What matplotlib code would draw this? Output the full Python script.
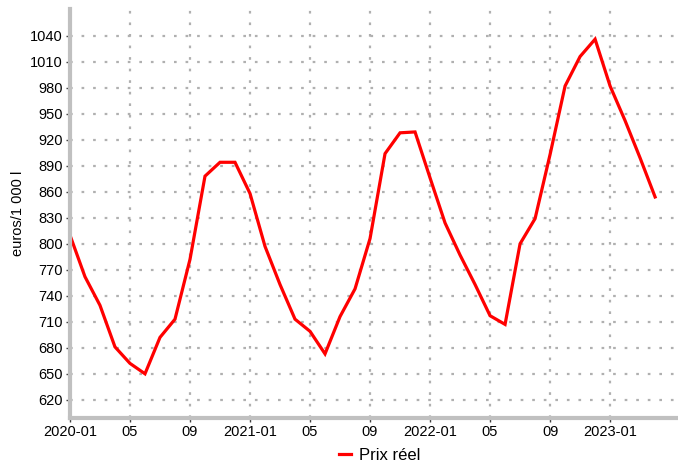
import numpy as np
import matplotlib.pyplot as plt

plt.rcParams['font.family'] = ['Liberation Sans', 'DejaVu Sans']

# prix mensuel, 2020-01 .. 2023-04
months = ["2020-01", "2020-02", "2020-03", "2020-04", "2020-05", "2020-06",
          "2020-07", "2020-08", "2020-09", "2020-10", "2020-11", "2020-12",
          "2021-01", "2021-02", "2021-03", "2021-04", "2021-05", "2021-06",
          "2021-07", "2021-08", "2021-09", "2021-10", "2021-11", "2021-12",
          "2022-01", "2022-02", "2022-03", "2022-04", "2022-05", "2022-06",
          "2022-07", "2022-08", "2022-09", "2022-10", "2022-11", "2022-12",
          "2023-01", "2023-02", "2023-03", "2023-04"]
prix_reel = [810, 762, 729, 681, 662, 650, 692, 713, 782, 878, 894, 894,
             858, 797, 753, 713, 699, 673, 716, 748, 806, 904, 928, 929,
             876, 824, 787, 753, 717, 707, 800, 829, 903, 982, 1016, 1036,
             982, 942, 899, 854]
tick_labels = ["2020-01", "05", "09", "2021-01", "05", "09",
               "2022-01", "05", "09", "2023-01"]
y_ticks = list(range(620, 1041, 30))

x = np.arange(len(months))

fig = plt.figure(figsize=(6.78, 4.66), dpi=100)
ax = fig.add_axes([0.1032, 0.103, 0.894, 0.878])

ax.plot(x, prix_reel, color='#ff0000', lw=2.3, label='Prix réel', solid_joinstyle='miter')

ax.set_xlim(0, 40.4)
ax.set_ylim(599, 1071)
ax.set_xticks(x[::4])
ax.set_xticklabels(tick_labels)
ax.set_yticks(y_ticks)

ax.grid(True, color='#b0b0b0', linestyle=(0, (1.2, 4)), linewidth=1.6)
ax.set_axisbelow(True)

for s in ['top', 'right']:
    ax.spines[s].set_visible(False)
for s in ['left', 'bottom']:
    ax.spines[s].set_color('#c0c0c0')
    ax.spines[s].set_linewidth(3)

ax.tick_params(axis='both', labelsize=10.5, length=3, width=1, color='#404040', pad=2)
ax.set_ylabel("euros/1 000 l", fontsize=10.5, labelpad=4)

leg = fig.legend(loc='lower center', bbox_to_anchor=(0.56, -0.025), frameon=False,
                 fontsize=12, handlelength=0.7, handletextpad=0.5)

plt.savefig("out.png", dpi=100)
